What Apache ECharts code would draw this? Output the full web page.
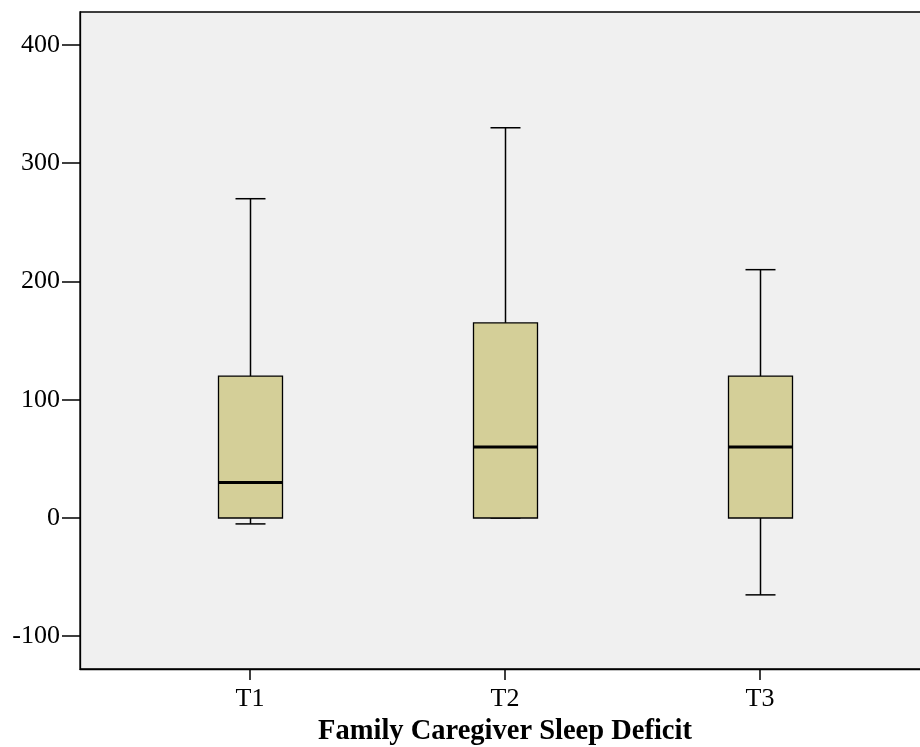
<!doctype html>
<html>
<head>
    <meta charset="UTF-8">
    <title>Family Caregiver Sleep Deficit</title>
    <script src="https://cdn.jsdelivr.net/npm/echarts@6/dist/echarts.min.js"></script>
    <style>
        html, body { margin: 0; padding: 0; background: #fff; }
        #chart { width: 920px; height: 747px; }
    </style>
</head>
<body>
    <div id="chart"></div>
    <script type="text/javascript">
        // slots on the x axis, only T1/T2/T3 carry data
        var slots = ['', '', 'T1', '', '', 'T2', '', '', 'T3', '', ''];
        var groups = ['T1', 'T2', 'T3'];
        // [min, Q1, median, Q3, max]
        var boxMin = [-5, 0, -65];
        var boxQ1 = [0, 0, 0];
        var boxMedian = [30, 60, 60];
        var boxQ3 = [120, 165, 120];
        var boxMax = [270, 330, 210];
        var yTicks = [-100, 0, 100, 200, 300, 400];

        var font = '"Liberation Serif", "Times New Roman", serif';

        var data = groups.map(function (g, i) {
            return [slots.indexOf(g), boxMin[i], boxQ1[i], boxMedian[i], boxQ3[i], boxMax[i]];
        });

        function renderBox(params, api) {
            var x = api.value(0);
            var pMin = api.coord([x, api.value(1)]);
            var pQ1 = api.coord([x, api.value(2)]);
            var pMed = api.coord([x, api.value(3)]);
            var pQ3 = api.coord([x, api.value(4)]);
            var pMax = api.coord([x, api.value(5)]);
            var cx = Math.round(pMed[0]) + 0.5;
            var hw = 32, cap = 15;
            var line = { stroke: '#000', lineWidth: 1.5 };
            return {
                type: 'group',
                children: [
                    { type: 'line', shape: { x1: cx, y1: pQ3[1], x2: cx, y2: pMax[1] }, style: line },
                    { type: 'line', shape: { x1: cx - cap, y1: pMax[1], x2: cx + cap, y2: pMax[1] }, style: line },
                    { type: 'line', shape: { x1: cx, y1: pQ1[1], x2: cx, y2: pMin[1] }, style: line },
                    { type: 'line', shape: { x1: cx - cap, y1: pMin[1], x2: cx + cap, y2: pMin[1] }, style: line },
                    {
                        type: 'rect',
                        shape: { x: cx - hw, y: pQ3[1], width: hw * 2, height: pQ1[1] - pQ3[1] },
                        style: { fill: '#d4cf98', stroke: '#000', lineWidth: 1.3 }
                    },
                    { type: 'line', shape: { x1: cx - hw, y1: pMed[1], x2: cx + hw, y2: pMed[1] }, style: { stroke: '#000', lineWidth: 3 } }
                ]
            };
        }

        var myChart = echarts.init(document.getElementById('chart'));
        var option = {
            animation: false,
            grid: {
                left: 80,
                right: -10,
                top: 12,
                bottom: 78,
                outerBoundsMode: 'none',
                show: true,
                backgroundColor: '#f0f0f0',
                borderColor: '#000',
                borderWidth: 1.3
            },
            xAxis: {
                type: 'category',
                data: slots,
                boundaryGap: false,
                axisLine: { onZero: false, lineStyle: { color: '#000', width: 1.3 } },
                axisTick: {
                    length: 11,
                    lineStyle: { color: '#000', width: 1.5 },
                    interval: function (i, v) { return v !== ''; }
                },
                axisLabel: {
                    interval: function (i, v) { return v !== ''; },
                    color: '#000',
                    fontFamily: font,
                    fontSize: 26,
                    margin: 17
                },
                name: 'Family Caregiver Sleep Deficit',
                nameLocation: 'middle',
                nameGap: 47,
                nameTextStyle: { color: '#000', fontFamily: font, fontSize: 28.5, fontWeight: 'bold' },
                splitLine: { show: false }
            },
            yAxis: {
                type: 'value',
                min: -127.7,
                max: 427.9,
                axisLine: { show: true, lineStyle: { color: '#000', width: 1.3 } },
                axisTick: {
                    show: true,
                    length: 18,
                    customValues: yTicks,
                    lineStyle: { color: '#000', width: 1.5 }
                },
                axisLabel: {
                    customValues: yTicks,
                    color: '#000',
                    fontFamily: font,
                    fontSize: 26,
                    margin: 20
                },
                splitLine: { show: false }
            },
            series: [{
                type: 'custom',
                renderItem: renderBox,
                encode: { x: 0, y: [1, 2, 3, 4, 5] },
                data: data
            }]
        };
        myChart.setOption(option);
    </script>
</body>
</html>
